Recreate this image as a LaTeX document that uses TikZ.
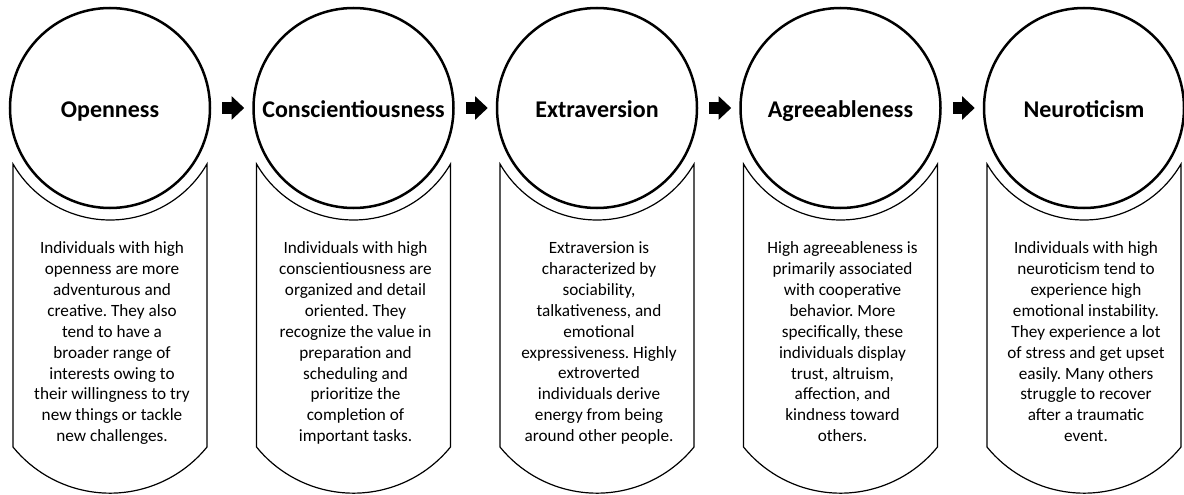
\documentclass[tikz,border=0pt]{standalone}
\usepackage{fontspec}
\setmainfont{Carlito}
\frenchspacing
\usetikzlibrary{arrows.meta, calc}
\tikzset{
  trait/.style={circle, draw, line width=2.5pt, minimum size=200pt,
    inner sep=0pt, text height=19pt, text depth=0pt,
    font=\bfseries\fontsize{24}{28}\selectfont},
  cup/.style={draw, line width=1.2pt},
  desc/.style={anchor=north, align=center, inner sep=0pt,
    font=\fontsize{17.2}{20.9}\selectfont},
  flow/.style={-{Triangle[length=12.7pt, width=23pt]}, line width=12.3pt,
    shorten <=11pt, shorten >=8pt},
}

\begin{document}
\begin{tikzpicture}[x=1pt, y=1pt]
  \useasboundingbox (0,0) rectangle (1184,-495);

  % ---- the five traits -------------------------------------------------------
  \node[trait] (open)  at (110,-108)   {Openness};
  \node[trait] (consc) at (353.5,-108) {Conscientiousness};
  \node[trait] (extra) at (597,-108)   {Extraversion};
  \node[trait] (agree) at (840.5,-108) {Agreeableness};
  \node[trait] (neuro) at (1084,-108)  {Neuroticism};

  \draw[flow] (open)  -- (consc);
  \draw[flow] (consc) -- (extra);
  \draw[flow] (extra) -- (agree);
  \draw[flow] (agree) -- (neuro);

  % ---- cups hanging under each circle ---------------------------------------
  \draw[cup] ($(open.center)+(210:112pt)$)  arc[start angle=210, end angle=330, radius=112pt]
    -- ++(0,-283) arc[start angle=-39.1, end angle=-140.9, radius=125pt] -- cycle;
  \draw[cup] ($(consc.center)+(210:112pt)$) arc[start angle=210, end angle=330, radius=112pt]
    -- ++(0,-283) arc[start angle=-39.1, end angle=-140.9, radius=125pt] -- cycle;
  \draw[cup] ($(extra.center)+(210:112pt)$) arc[start angle=210, end angle=330, radius=112pt]
    -- ++(0,-283) arc[start angle=-39.1, end angle=-140.9, radius=125pt] -- cycle;
  \draw[cup] ($(agree.center)+(210:112pt)$) arc[start angle=210, end angle=330, radius=112pt]
    -- ++(0,-283) arc[start angle=-39.1, end angle=-140.9, radius=125pt] -- cycle;
  \draw[cup] ($(neuro.center)+(210:112pt)$) arc[start angle=210, end angle=330, radius=112pt]
    -- ++(0,-283) arc[start angle=-39.1, end angle=-140.9, radius=125pt] -- cycle;

  % ---- descriptions ----------------------------------------------------------
  \node[desc] (openTxt) at (112,-241.5) {Individuals with high\\openness are more\\adventurous and\\creative. They also\\tend to have a\\broader range of\\interests owing to\\their willingness to try\\new things or tackle\\new challenges.};
  \node[desc] (conscTxt) at (355.5,-241.5) {Individuals with high\\conscientiousness are\\organized and detail\\oriented. They\\recognize the value in\\preparation and\\scheduling and\\prioritize the\\completion of\\important tasks.};
  \node[desc] (extraTxt) at (599,-241.5) {Extraversion is\\characterized by\\sociability,\\talkativeness, and\\emotional\\expressiveness. Highly\\extroverted\\individuals derive\\energy from being\\around other people.};
  \node[desc] (agreeTxt) at (842.5,-241.5) {High agreeableness is\\primarily associated\\with cooperative\\behavior. More\\specifically, these\\individuals display\\trust, altruism,\\affection, and\\kindness toward\\others.};
  \node[desc] (neuroTxt) at (1086,-241.5) {Individuals with high\\neuroticism tend to\\experience high\\emotional instability.\\They experience a lot\\of stress and get upset\\easily. Many others\\struggle to recover\\after a traumatic\\event.};

\end{tikzpicture}
\end{document}
